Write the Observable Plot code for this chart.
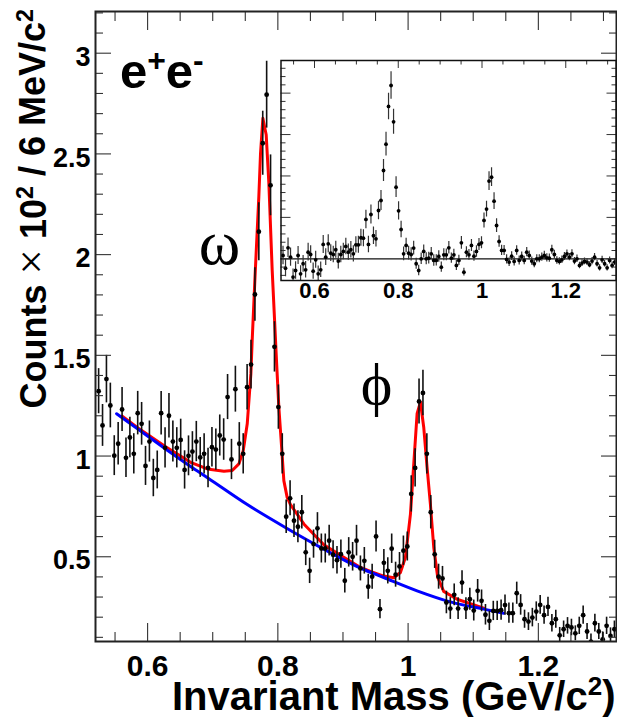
<!DOCTYPE html>
<html><head><meta charset="utf-8">
<script src="https://cdn.jsdelivr.net/npm/d3@7"></script>
<script src="https://cdn.jsdelivr.net/npm/@observablehq/plot@0.6"></script>
<style>
html,body{margin:0;padding:0;background:#fff}
#c{position:relative;width:617px;height:717px;overflow:hidden}
#c svg{position:absolute;left:0;top:0;display:block}
</style></head><body><div id="c"></div>
<script>
const mass=[.5248,.5308,.5368,.5428,.5488,.5548,.5608,.5668,.5728,.5788,
.5848,.5908,.5968,.6028,.6088,.6148,.6208,.6268,.6328,.6388,
.6448,.6508,.6568,.6628,.6688,.6748,.6808,.6868,.6928,.6988,
.7048,.7108,.7168,.7228,.7288,.7348,.7408,.7468,.7528,.7588,
.7648,.7708,.7768,.7828,.7888,.7948,.8008,.8068,.8128,.8188,
.8248,.8308,.8368,.8428,.8488,.8548,.8608,.8668,.8728,.8788,
.8848,.8908,.8968,.9028,.9088,.9148,.9208,.9268,.9328,.9388,
.9448,.9508,.9568,.9628,.9688,.9748,.9808,.9868,.9928,.9988,
1.0048,1.0108,1.0168,1.0228,1.0288,1.0348,1.0408,1.0468,1.0528,1.0588,
1.0648,1.0708,1.0768,1.0828,1.0888,1.0948,1.1008,1.1068,1.1128,1.1188,
1.1248,1.1308,1.1368,1.1428,1.1488,1.1548,1.1608,1.1668,1.1728,1.1788,
1.1848,1.1908,1.1968,1.2028,1.2088,1.2148,1.2208,1.2268,1.2328,1.2388,
1.2448,1.2508,1.2568,1.2628,1.2688,1.2748,1.2808,1.2868,1.2928,1.2988,
1.3048,1.3108,1.3168];
const counts=[1.322,1.152,1.382,1.251,1.002,1.061,1.231,.991,1.092,1.011,
1.213,1.160,.951,1.072,.891,.931,1.213,1.041,1.200,1.072,
1.041,1.080,.931,1.001,1.022,1.072,.993,1.011,.941,1.044,
1.032,1.102,1.082,1.293,.983,1.332,1.061,1.011,1.342,1.454,
1.802,2.114,2.553,2.794,2.344,1.542,1.243,1.011,.699,.790,
.679,.649,.721,.522,.430,.563,.641,.541,.541,.580,
.510,.483,.513,.381,.522,.500,.580,.442,.480,.351,
.401,.601,.240,.470,.430,.540,.411,.452,.530,.551,
.812,.941,1.271,1.313,1.011,.721,.512,.401,.392,.273,
.243,.311,.243,.372,.243,.289,.233,.331,.281,.212,
.182,.231,.231,.235,.260,.220,.220,.319,.261,.190,
.178,.198,.228,.261,.210,.251,.170,.190,.110,.140,
.157,.149,.120,.157,.210,.129,.079,.170,.129,.090,
.157,.107,.140];
const errors=[.112,.104,.118,.111,.099,.105,.109,.098,.101,.100,
.108,.106,.097,.102,.093,.094,.108,.100,.110,.102,
.100,.103,.095,.099,.099,.100,.099,.100,.098,.098,
.102,.102,.103,.112,.100,.114,.105,.100,.113,.121,
.133,.144,.159,.166,.151,.125,.110,.100,.083,.087,
.083,.080,.083,.066,.063,.070,.078,.072,.072,.076,
.070,.068,.070,.061,.073,.071,.076,.062,.066,.062,
.062,.077,.048,.066,.065,.073,.062,.069,.073,.072,
.090,.095,.112,.113,.100,.083,.070,.062,.060,.056,
.054,.054,.054,.058,.054,.055,.052,.056,.054,.051,
.048,.048,.048,.050,.050,.050,.050,.055,.051,.045,
.044,.046,.048,.047,.045,.048,.043,.045,.039,.041,
.041,.041,.037,.043,.045,.040,.038,.044,.040,.037,
.043,.040,.041];
const insetCounts=[.040,-.113,.133,.020,-.221,-.141,.040,-.181,-.060,-.133,
.080,.052,-.149,-.012,-.181,-.133,.173,.020,.181,.068,
.052,.109,-.028,.052,.089,.149,.080,.109,.060,.169,
.169,.254,.249,.475,.173,.535,.278,.241,.583,.704,
1.066,1.384,1.839,2.092,1.654,.865,.579,.354,.060,.161,
.068,.052,.129,-.060,-.141,0,.089,0,.008,.060,
-.020,-.020,.028,-.101,.048,.048,.133,.008,.048,-.080,
-.020,.193,-.161,.080,.048,.161,.032,.089,.173,.193,
.463,.600,.938,.986,.696,.402,.209,.101,.101,-.008,
-.040,.032,-.032,.101,-.020,.028,-.020,.080,.040,-.028,
-.060,0,0,.020,.040,.012,.008,.109,.052,-.020,
-.032,-.012,.028,.060,.020,.060,-.028,0,-.080,-.052,
-.032,-.040,-.072,-.028,.020,-.060,-.109,-.012,-.060,-.109,
-.020,-.080,-.040];
const bgMass=[.5524,.5893,.6271,.6660,.6925,.7530,.8128,.8705,.9268,.9626,1.0138,1.0649,1.1161,1.1467];
const bgFit=[1.210,1.124,1.036,.948,.891,.759,.643,.538,.444,.397,.331,.276,.240,.220];
const fitMass=[.5611,.5893,.6271,.6660,.6916,.7172,.7300,.7402,.7469,.7530,.7586,.7606,.7647,.7708,.7734,.7770,.7821,.7862,.7913,.7979,.8015,.8051,.8092,.8143,.8194,.8399,.8706,.9013,.9268,.9422,.9626,.9780,.9882,.9959,1.0036,1.0087,1.0138,1.0189,1.0240,1.0291,1.0342,1.0394,1.0455,1.0547,1.0752,1.1161];
const fitCurve=[1.198,1.130,1.047,.969,.936,.925,.928,.961,1.027,1.160,1.409,1.575,1.873,2.288,2.503,2.677,2.595,2.354,1.923,1.475,1.243,1.077,.878,.795,.759,.663,.560,.497,.447,.427,.404,.396,.422,.497,.712,.961,1.210,1.268,1.143,.945,.762,.546,.397,.328,.289,.245];
const xMajor=[.6,.8,1,1.2];
const xMinor=[.55,.65,.7,.75,.85,.9,.95,1.05,1.1,1.15,1.25,1.3];
const yMajor=[.5,1,1.5,2,2.5,3];
const yMinor=[.1,.2,.3,.4,.6,.7,.8,.9,1.1,1.2,1.3,1.4,1.6,1.7,1.8,1.9,2.1,2.2,2.3,2.4,2.6,2.7,2.8,2.9,3.1,3.2];
const insetYMajor=[0,.5,1,1.5,2];
const insetYMinor=[-.2,-.1,.1,.2,.3,.4,.6,.7,.8,.9,1.1,1.2,1.3,1.4,1.6,1.7,1.8,1.9,2.1,2.2,2.3];
const xLabel="Invariant Mass (GeV/c^2)";
const yLabel="Counts {×} 10^2 / 6 MeV/c^2";

const points=mass.map((m,i)=>({m,c:counts[i],e:errors[i],s:insetCounts[i]}));
const bg=bgMass.map((m,i)=>({m,v:bgFit[i]}));
const fit=fitMass.map((m,i)=>({m,v:fitCurve[i]}));
const FF="Liberation Sans";
const tickStroke="#333";
const fmt=d=>String(d);

function ticks(axis,anchor,vals,size,sw=1.1){
  return axis({anchor,ticks:vals,tickSize:-size,fill:"none",label:null,stroke:tickStroke,strokeWidth:sw});
}

const main=Plot.plot({
  width:617,height:717,
  marginLeft:95,marginRight:1,marginTop:11,marginBottom:76,
  style:{background:"transparent",fontFamily:FF},
  x:{domain:[.52,1.32],axis:null},
  y:{domain:[.0793,3.207],axis:null},
  marks:[
    Plot.line(fit,{x:"m",y:"v",stroke:"#f00",strokeWidth:3,curve:"linear"}),
    Plot.line(bg,{x:"m",y:"v",stroke:"#00f",strokeWidth:3,curve:"monotone-x"}),
    Plot.ruleX(points,{x:"m",y1:d=>d.c-d.e,y2:d=>d.c+d.e,stroke:"#111",strokeWidth:1.6,clip:"frame"}),
    Plot.dot(points,{x:"m",y:"c",r:2.4,fill:"#000",stroke:"none",clip:"frame"}),
    ticks(Plot.axisX,"bottom",xMajor,18),ticks(Plot.axisX,"bottom",xMinor,9),
    ticks(Plot.axisX,"top",xMajor,18),ticks(Plot.axisX,"top",xMinor,9),
    ticks(Plot.axisY,"left",yMajor,16),ticks(Plot.axisY,"left",yMinor,8),
    ticks(Plot.axisY,"right",yMajor,16),ticks(Plot.axisY,"right",yMinor,8),
    Plot.axisX({anchor:"bottom",ticks:xMajor,tickSize:0,tickPadding:13,stroke:"none",label:null,tickFormat:fmt,fontSize:30,fontWeight:"bold",fill:"#000",fontFamily:FF}),
    Plot.axisY({anchor:"left",ticks:yMajor,tickSize:0,tickPadding:5,dy:4,stroke:"none",label:null,tickFormat:fmt,fontSize:27,fontWeight:"bold",fill:"#000",fontFamily:FF}),
    Plot.frame({stroke:"#222",strokeWidth:2}),
    Plot.text([xLabel],{frameAnchor:"bottom-right",dx:-1,dy:68,lineAnchor:"bottom",textAnchor:"end",fontSize:40,fontWeight:"bold",fontFamily:FF,fill:"#000"}),
    Plot.text([yLabel],{frameAnchor:"bottom-left",dx:-50,dy:-233,rotate:-90,lineAnchor:"bottom",textAnchor:"start",fontSize:36,fontWeight:"bold",fontFamily:FF,fill:"#000"}),
    Plot.text(["e^+e^-"],{x:[.5575],y:[2.825],lineAnchor:"bottom",textAnchor:"start",fontSize:49,fontWeight:"bold",fontFamily:FF,fill:"#000"}),
    Plot.text(["ω"],{x:[.7105],y:[1.955],lineAnchor:"bottom",textAnchor:"middle",fontSize:63,fontFamily:"Liberation Serif",fill:"#000"}),
    Plot.text(["ϕ"],{x:[.9515],y:[1.26],lineAnchor:"bottom",textAnchor:"middle",fontSize:60,fontFamily:"Liberation Serif",fill:"#000"})
  ]
});

const inset=Plot.plot({
  width:617,height:717,
  marginLeft:280.5,marginRight:1.5,marginTop:60,marginBottom:437,
  style:{background:"transparent",fontFamily:FF},
  x:{domain:[.52,1.32],axis:null},
  y:{domain:[-.262,2.394],axis:null},
  marks:[
    Plot.frame({fill:"#fff",stroke:"none"}),
    Plot.ruleY([0],{stroke:"#111",strokeWidth:1.3}),
    Plot.ruleX(points,{x:"m",y1:d=>d.s-d.e,y2:d=>d.s+d.e,stroke:"#333",strokeWidth:1.2,clip:"frame"}),
    Plot.dot(points,{x:"m",y:"s",r:1.9,fill:"#000",stroke:"none",clip:"frame"}),
    ticks(Plot.axisX,"top",xMajor,7,1),ticks(Plot.axisX,"top",xMinor,3.5,1),
    ticks(Plot.axisY,"left",insetYMajor,10,1),ticks(Plot.axisY,"left",insetYMinor,5,1),
    ticks(Plot.axisY,"right",insetYMajor,10,1),ticks(Plot.axisY,"right",insetYMinor,5,1),
    Plot.axisX({anchor:"bottom",ticks:xMajor,tickSize:0,tickPadding:2,stroke:"none",label:null,tickFormat:fmt,fontSize:22,fontWeight:"bold",fill:"#000",fontFamily:FF}),
    Plot.frame({stroke:"#111",strokeWidth:1.5})
  ]
});

function richText(svg){
  d3.select(svg).selectAll("text").each(function(){
    const s=this.textContent;
    if(!/\^|\{/.test(s)) return;
    const t=d3.select(this); t.text(null);
    const parts=s.split(/(\^.|\{.*?\})/).filter(p=>p!=="");
    let prevSup=false;
    for(const p of parts){
      const sp=t.append("tspan");
      const isSup=p[0]==="^";
      if(isSup){ sp.text(p.slice(1)).attr("font-size","65%").attr("dy","-0.55em"); }
      else if(p[0]==="{"){ sp.text(p.slice(1,-1)).attr("font-weight","normal").attr("font-family","Liberation Serif").attr("font-size","125%"); if(prevSup) sp.attr("dy","0.357em"); }
      else { sp.text(p); if(prevSup) sp.attr("dy","0.357em"); }
      prevSup=isSup;
    }
  });
}
richText(main);
const c=document.getElementById("c");
c.appendChild(main);c.appendChild(inset);
</script></body></html>
